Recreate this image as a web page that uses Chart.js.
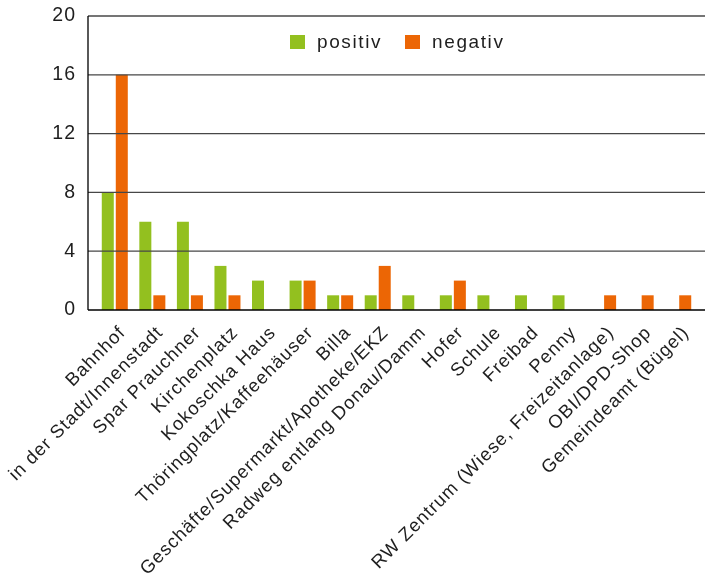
<!DOCTYPE html>
<html>
<head>
<meta charset="utf-8">
<script src="https://cdn.jsdelivr.net/npm/chart.js@4/dist/chart.umd.min.js"></script>
<style>
  html, body { margin: 0; padding: 0; background: #ffffff; }
  #wrap { position: relative; width: 705px; height: 584px; }
  #legend {
    position: absolute; left: 290px; top: 32px; height: 20px;
    display: flex; align-items: center;
    font-family: 'Liberation Sans', Arial, sans-serif; font-size: 19px;
    letter-spacing: 1.6px; color: #1e1e1e;
  }
  #legend .item { display: flex; align-items: center; margin-right: 23px; }
  #legend .box { width: 15px; height: 14px; margin-right: 12px; }
</style>
</head>
<body>
<div id="wrap"><canvas id="c" width="705" height="584"></canvas><div id="legend"></div></div>
<script>
const categories = [
  "Bahnhof",
  "in der Stadt/Innenstadt",
  "Spar Prauchner",
  "Kirchenplatz",
  "Kokoschka Haus",
  "Thöringplatz/Kaffeehäuser",
  "Billa",
  "Geschäfte/Supermarkt/Apotheke/EKZ",
  "Radweg entlang Donau/Damm",
  "Hofer",
  "Schule",
  "Freibad",
  "Penny",
  "RW Zentrum (Wiese, Freizeitanlage)",
  "OBI/DPD-Shop",
  "Gemeindeamt (Bügel)"
];
const positiv = [8, 6, 6, 3, 2, 2, 1, 1, 1, 1, 1, 1, 1, 0, 0, 0];
const negativ = [16, 1, 1, 1, 0, 2, 1, 3, 0, 2, 0, 0, 0, 1, 1, 1];
const seriesNames = ["positiv", "negativ"];
const seriesColors = ["#93c01f", "#ec6605"];
const yTicks = [0, 4, 8, 12, 16, 20];

const FONT = "'Liberation Sans', Arial, sans-serif";
const TXT = "#1e1e1e";
const SPACING = "1px";

const spacingPlugin = {
  id: 'spacing',
  beforeLayout(chart) { chart.ctx.letterSpacing = SPACING; },
  beforeDraw(chart) { chart.ctx.letterSpacing = SPACING; }
};

const axesPlugin = {
  id: 'axesLines',
  afterDatasetsDraw(chart) {
    const ctx = chart.ctx;
    const y = chart.scales.y;
    const left = chart.chartArea.left - 8;
    const right = chart.width;
    ctx.save();
    ctx.lineWidth = 1.3;
    yTicks.forEach(v => {
      if (v === 0) return;
      const py = y.getPixelForValue(v);
      ctx.strokeStyle = '#474747';
      ctx.beginPath();
      ctx.moveTo(left, py);
      ctx.lineTo(right, py);
      ctx.stroke();
    });
    ctx.strokeStyle = '#000000';
    ctx.lineWidth = 1.3;
    const y0 = y.getPixelForValue(0);
    const yTop = y.getPixelForValue(20);
    ctx.beginPath();
    ctx.moveTo(left, yTop);
    ctx.lineTo(left, y0);
    ctx.moveTo(left, y0);
    ctx.lineTo(right, y0);
    ctx.stroke();
    ctx.restore();
  }
};

const chart = new Chart(document.getElementById('c'), {
  type: 'bar',
  data: {
    labels: categories,
    datasets: [
      { label: seriesNames[0], data: positiv, backgroundColor: seriesColors[0], borderWidth: 0 },
      { label: seriesNames[1], data: negativ, backgroundColor: seriesColors[1], borderWidth: 0 }
    ]
  },
  options: {
    responsive: false,
    animation: false,
    devicePixelRatio: 1,
    layout: { padding: { top: 16, right: 8, left: 0, bottom: 0 } },
    datasets: {
      bar: { categoryPercentage: 0.746, barPercentage: 0.857 }
    },
    plugins: {
      legend: { display: false },
      tooltip: { enabled: false }
    },
    scales: {
      x: {
        grid: { display: false },
        border: { display: false },
        ticks: {
          color: TXT,
          font: { family: FONT, size: 18.5 },
          maxRotation: 45,
          minRotation: 45,
          autoSkip: false,
          padding: 4,
          labelOffset: 8
        },
        afterFit(scale) { scale.height = 274; }
      },
      y: {
        min: 0,
        max: 20,
        afterBuildTicks(scale) { scale.ticks = yTicks.map(v => ({ value: v })); },
        grid: { display: false },
        border: { display: false },
        ticks: {
          color: TXT,
          font: { family: FONT, size: 19.5 },
          padding: 12
        },
        afterFit(scale) {
          scale.width = 96;
          scale.paddingTop = 0;
          scale.paddingBottom = 0;
        }
      }
    }
  },
  plugins: [spacingPlugin, axesPlugin]
});

const legendEl = document.getElementById('legend');
chart.data.datasets.forEach(ds => {
  const item = document.createElement('div');
  item.className = 'item';
  const box = document.createElement('span');
  box.className = 'box';
  box.style.background = ds.backgroundColor;
  const txt = document.createElement('span');
  txt.textContent = ds.label;
  item.appendChild(box);
  item.appendChild(txt);
  legendEl.appendChild(item);
});
</script>
</body>
</html>
